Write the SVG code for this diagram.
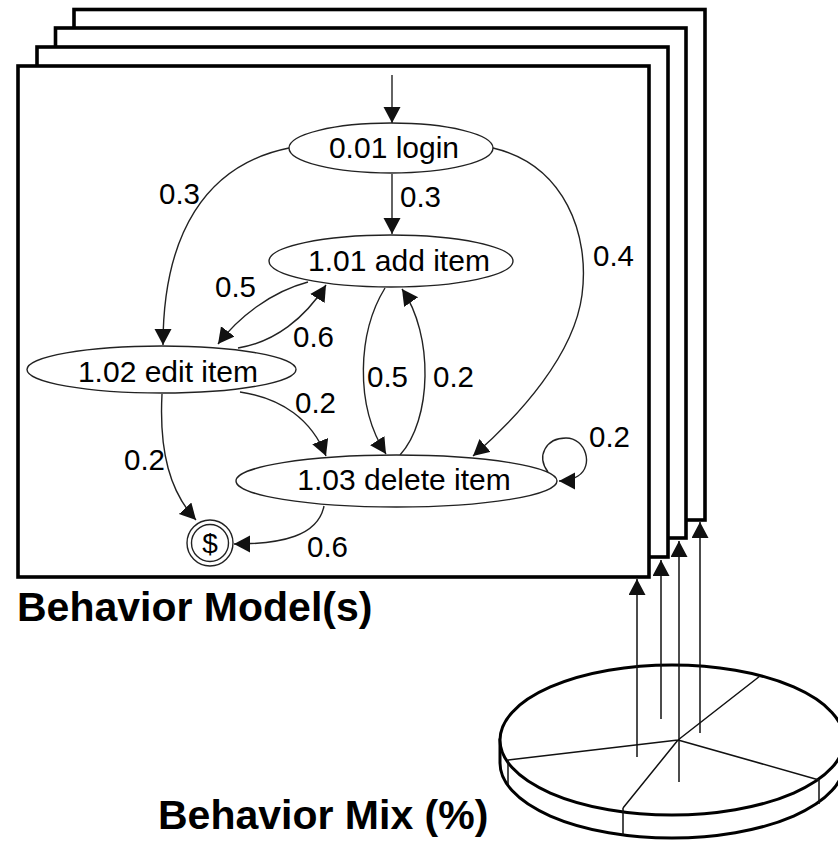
<svg xmlns="http://www.w3.org/2000/svg" width="838" height="843" viewBox="0 0 838 843">
  <defs>
    <marker id="arrow" markerUnits="userSpaceOnUse" markerWidth="17" markerHeight="18" refX="16" refY="8.5" orient="auto">
      <path d="M0,0 L16,8.5 L0,17 z" fill="#111"/>
    </marker>
    <style>
      .frame { fill: #fff; stroke: #000; stroke-width: 3.6; }
      .node { fill: #fff; stroke: #222; stroke-width: 1.4; }
      .edge { fill: none; stroke: #222; stroke-width: 1.4; marker-end: url(#arrow); }
      .lbl { font-family: "Liberation Sans", Arial, sans-serif; font-size: 29.5px; fill: #000; }
      .ntxt { font-family: "Liberation Sans", Arial, sans-serif; font-size: 30px; fill: #000; text-anchor: middle; }
      .title { font-family: "Liberation Sans", Arial, sans-serif; font-size: 41px; font-weight: bold; fill: #000; }
      .pie { fill: #fff; stroke: #000; stroke-width: 3; }
      .slice { fill: none; stroke: #111; stroke-width: 1.5; }
      .feed { fill: none; stroke: #111; stroke-width: 1.5; marker-end: url(#arrow); }
    </style>
  </defs>

  <!-- stacked model sheets, back to front -->
  <g id="sheets">
    <rect class="frame" x="74" y="9.5" width="631" height="510.5"/>
    <rect class="frame" x="55.5" y="28" width="630.5" height="510"/>
    <rect class="frame" x="37" y="47" width="631" height="510"/>
    <rect class="frame" x="18" y="66" width="631" height="511"/>
  </g>

  <!-- transitions -->
  <g id="connectors">
    <path class="edge" d="M392,75 L392,123"/>
    <path class="edge" d="M392,174 L392,234"/>
    <path class="edge" d="M289,148 C205,165 163,235 163,345"/>
    <path class="edge" d="M493,148 C565,165 590,235 582,295 C574,355 520,415 473,456"/>
    <path class="edge" d="M308,282 C270,292 238,318 218,344"/>
    <path class="edge" d="M238,348 C275,342 305,318 326,285"/>
    <path class="edge" d="M385,288 C358,332 354,405 386,454"/>
    <path class="edge" d="M400,455 C432,420 434,335 402,289"/>
    <path class="edge" d="M240,392 C282,398 312,420 326,456"/>
    <path class="edge" d="M162,394 C159,452 170,492 196,520"/>
    <path class="edge" d="M324,506 C318,536 282,544 234,544"/>
    <path class="edge" d="M548,472 C536,456 546,438 566,438 C586,438 594,466 578,476 C572,480 566,481 559,481"/>
  </g>

  <!-- transition probabilities -->
  <g id="labels">
    <text class="lbl" x="159" y="204">0.3</text>
    <text class="lbl" x="400" y="207">0.3</text>
    <text class="lbl" x="593" y="266">0.4</text>
    <text class="lbl" x="215" y="297">0.5</text>
    <text class="lbl" x="293" y="347">0.6</text>
    <text class="lbl" x="367" y="387">0.5</text>
    <text class="lbl" x="433" y="387">0.2</text>
    <text class="lbl" x="295" y="413">0.2</text>
    <text class="lbl" x="124" y="470">0.2</text>
    <text class="lbl" x="589" y="447">0.2</text>
    <text class="lbl" x="307" y="557">0.6</text>
  </g>

  <g id="login">
    <ellipse class="node" cx="391" cy="148" rx="102" ry="25"/>
    <text class="ntxt" x="394" y="158">0.01 login</text>
  </g>
  <g id="add-item">
    <ellipse class="node" cx="391" cy="261" rx="122" ry="26"/>
    <text class="ntxt" x="399" y="271">1.01 add item</text>
  </g>
  <g id="edit-item">
    <ellipse class="node" cx="161.5" cy="369.5" rx="134.5" ry="23.5"/>
    <text class="ntxt" x="168" y="382">1.02 edit item</text>
  </g>
  <g id="delete-item">
    <ellipse class="node" cx="396.5" cy="481" rx="160.5" ry="26"/>
    <text class="ntxt" x="404" y="490">1.03 delete item</text>
  </g>
  <g id="exit">
    <circle class="node" cx="210" cy="543" r="23"/>
    <circle class="node" cx="210" cy="543" r="18.5"/>
    <text class="ntxt" x="210" y="553" style="font-size:28px">$</text>
  </g>

  <text class="title" x="17" y="621">Behavior Model(s)</text>

  <!-- behaviour mix pie -->
  <g id="mix-pie">
    <path class="pie" d="M500,740 L500,763 A172,75 0 0 0 844,763 L844,740 z"/>
    <ellipse class="pie" cx="672" cy="740" rx="172" ry="75"/>
    <path class="slice" d="M678,740 L508,760 M678,740 L760,676 M678,740 L623,808 M678,740 L819,780"/>
    <path class="slice" d="M508,760 L508,784 M623,808 L623,835 M819,780 L819,804"/>
  </g>

  <!-- pie shares feeding each model -->
  <g id="mix-feeds">
    <path class="feed" d="M637,757 L637,579"/>
    <path class="feed" d="M661,719 L661,560"/>
    <path class="feed" d="M679,782 L679,541"/>
    <path class="feed" d="M700,733 L700,522"/>
  </g>

  <text class="title" x="158" y="829">Behavior Mix (%)</text>
</svg>
